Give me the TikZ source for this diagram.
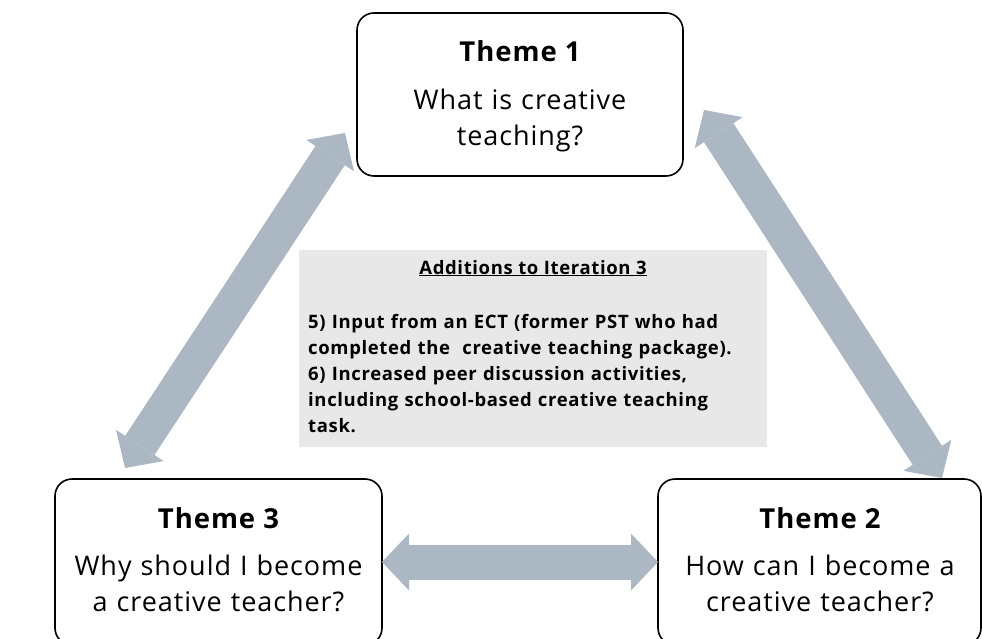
\documentclass[tikz,border=0pt]{standalone}
\usepackage{fontspec}
\setmainfont{Open Sans}[LetterSpace=3.5]
\usetikzlibrary{arrows.meta}
\definecolor{arrowgray}{RGB}{171,183,195}
\definecolor{panelgray}{RGB}{232,232,232}
\begin{document}
\begin{tikzpicture}[x=1pt,y=-1pt,
  themebox/.style={draw=black,line width=1.6pt,rounded corners=17pt,inner sep=0pt,outer sep=0pt,fill=white},
  titletxt/.style={font=\fontsize{27.5}{31}\selectfont\bfseries,inner sep=0pt,anchor=base},
  bodytxt/.style={font=\fontsize{27}{36}\selectfont,inner sep=0pt,anchor=base,align=center,text width=320pt},
  bigarrow/.style={draw=arrowgray,line width=#1,
    arrows={Triangle[length=27pt,width=57pt,line width=0pt]-Triangle[length=27pt,width=57pt,line width=0pt]}},
  paneltitle/.style={font=\fontsize{18.5}{26}\selectfont\bfseries,inner sep=0pt,anchor=base},
  paneltxt/.style={font=\fontsize{18.5}{26}\selectfont\bfseries,inner sep=0pt,anchor=base west,align=left,text width=455pt}
]
\useasboundingbox (0,0) rectangle (982,639);
\clip (0,0) rectangle (982,639);

% theme boxes
\node[themebox,minimum width=326pt,minimum height=163pt] (t1) at (520,94.5) {};
\node[themebox,minimum width=327pt,minimum height=166pt] (t3) at (218.5,562) {};
\node[themebox,minimum width=323pt,minimum height=166pt] (t2) at (819.5,562) {};

\node[titletxt] (t1h) at (520,62) {Theme 1};
\node[bodytxt] (t1b) at (520,109.5) {What is creative\\teaching?};
\node[titletxt] (t3h) at (218.5,528) {Theme 3};
\node[bodytxt] (t3b) at (218.5,575) {Why should I become\\a creative teacher?};
\node[titletxt] (t2h) at (820,528) {Theme 2};
\node[bodytxt] (t2b) at (820,575) {How can I become a\\creative teacher?};

% central panel
\node[fill=panelgray,inner sep=0pt,minimum width=468pt,minimum height=197pt] (panel) at (533,348.5) {};
\node[paneltitle] (ptitle) at (533,274) {\underline{Additions to Iteration 3}};
\node[paneltxt] (pbody) at (308,328) {5) Input from an ECT (former PST who had\\completed the~ creative teaching package).\\6) Increased peer discussion activities,\\including school-based creative teaching\\task.};

% arrow end points
\coordinate (a13) at (345,133);
\coordinate (a31) at (125,468);
\coordinate (a12) at (704,110);
\coordinate (a21) at (942,478);

% connectors
\draw[bigarrow=35pt] (a31) -- (a13);
\draw[bigarrow=35pt] (a12) -- (a21);
\draw[bigarrow=35pt] (t3.east) -- (t2.west);
\end{tikzpicture}
\end{document}
